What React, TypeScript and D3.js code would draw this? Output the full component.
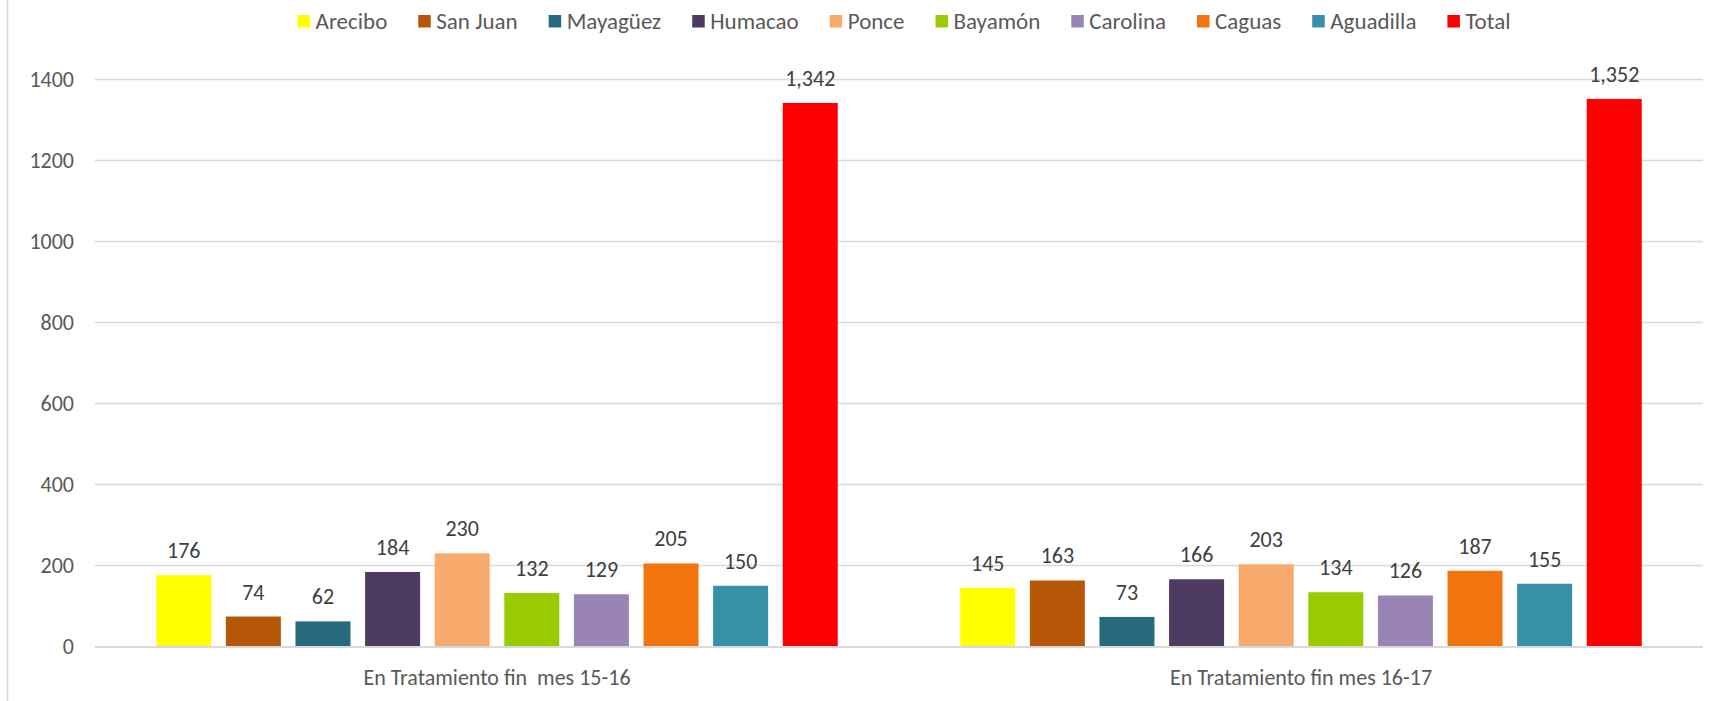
import React, { useEffect, useRef } from 'react';
import * as d3 from 'd3';

const categories = ['En Tratamiento fin  mes 15-16', 'En Tratamiento fin mes 16-17'];
const regions = ['Arecibo', 'San Juan', 'Mayagüez', 'Humacao', 'Ponce', 'Bayamón', 'Carolina', 'Caguas', 'Aguadilla', 'Total'];
const values1516 = [176, 74, 62, 184, 230, 132, 129, 205, 150, 1342];
const values1617 = [145, 163, 73, 166, 203, 134, 126, 187, 155, 1352];
const regionColors = ['#FFFF00', '#B65708', '#276A7C', '#4E3B62', '#F8AA6C', '#99CC00', '#9A84B6', '#F2740C', '#388FA8', '#FF0000'];
const yTicks = [0, 200, 400, 600, 800, 1000, 1200, 1400];

const W = 1721;
const H = 701;
const FONT = 'Carlito, Calibri, Lato, sans-serif';

export default function App() {
  const ref = useRef<SVGSVGElement | null>(null);

  useEffect(() => {
    if (!ref.current) return;
    const svg = d3.select(ref.current);
    svg.selectAll('*').remove();
    svg.style('font-family', FONT);

    const left = 95, right = 1703, top = 79.5, bottom = 646.5;

    const rows = [values1516, values1617];

    const x0 = d3.scaleBand<string>().domain(categories).range([left, right]).padding(0);
    // inner band: step ~69.7, bar ~55, ~61px margin each side of the cluster
    const x1 = d3.scaleBand<string>().domain(regions).range([0, x0.bandwidth()])
      .paddingInner(0.21).paddingOuter(0.88);
    const y = d3.scaleLinear().domain([0, 1400]).range([bottom, top]);

    // chart frame (only left edge visible)
    svg.append('line')
      .attr('x1', 7.5).attr('x2', 7.5).attr('y1', 0).attr('y2', H)
      .attr('stroke', '#d9d9d9').attr('stroke-width', 1.5);

    // gridlines
    svg.append('g').selectAll('line')
      .data(yTicks.filter(t => t > 0))
      .join('line')
      .attr('x1', left).attr('x2', right)
      .attr('y1', d => y(d)).attr('y2', d => y(d))
      .attr('stroke', '#d9d9d9').attr('stroke-width', 1.3);

    // y tick labels
    svg.append('g').selectAll('text')
      .data(yTicks)
      .join('text')
      .attr('x', 74).attr('y', d => y(d))
      .attr('dy', '0.35em')
      .attr('text-anchor', 'end')
      .attr('fill', '#595959')
      .style('font-size', '22px')
      .text(d => String(d));

    // bars
    const groups = svg.append('g').selectAll('g')
      .data(categories)
      .join('g')
      .attr('transform', d => `translate(${x0(d)},0)`);

    groups.selectAll('rect')
      .data((_c, i) => rows[i].map((v, j) => ({ region: regions[j], v, color: regionColors[j] })))
      .join('rect')
      .attr('x', d => x1(d.region)!)
      .attr('width', x1.bandwidth())
      .attr('y', d => y(d.v))
      .attr('height', d => y(0) - y(d.v))
      .attr('fill', d => d.color);

    groups.selectAll('text.val')
      .data((_c, i) => rows[i].map((v, j) => ({ region: regions[j], v })))
      .join('text')
      .attr('class', 'val')
      .attr('x', d => x1(d.region)! + x1.bandwidth() / 2)
      .attr('y', d => y(d.v) - 17)
      .attr('text-anchor', 'middle')
      .attr('fill', '#404040')
      .style('font-size', '22px')
      .text(d => d3.format(',')(d.v));

    // baseline
    svg.append('line')
      .attr('x1', left).attr('x2', right)
      .attr('y1', y(0) + 0.5).attr('y2', y(0) + 0.5)
      .attr('stroke', '#d9d9d9').attr('stroke-width', 2.2);

    // category labels
    svg.append('g').selectAll('text')
      .data(categories)
      .join('text')
      .attr('x', d => x0(d)! + x0.bandwidth() / 2)
      .attr('y', 685)
      .attr('text-anchor', 'middle')
      .attr('fill', '#595959')
      .attr('xml:space', 'preserve')
      .style('white-space', 'pre')
      .style('font-size', '22px')
      .text(d => d);

    // legend, flowed and centred
    const legend = svg.append('g');
    const items = legend.selectAll('g')
      .data(regions)
      .join('g');
    items.append('rect')
      .attr('width', 12.5).attr('height', 12.5)
      .attr('y', 15)
      .attr('fill', (_d, i) => regionColors[i]);
    items.append('text')
      .attr('x', 18).attr('y', 29)
      .attr('fill', '#595959')
      .style('font-size', '23px')
      .text(d => d);

    let cx = 0;
    const offsets: number[] = [];
    items.each(function () {
      const t = d3.select(this).select<SVGTextElement>('text').node()!;
      offsets.push(cx);
      cx += 18 + t.getComputedTextLength() + 31;
    });
    const total = cx - 31;
    const start = 904 - total / 2;
    items.attr('transform', (_d, i) => `translate(${start + offsets[i]},0)`);
  }, []);

  return (
    <div style={{ position: 'fixed', left: 0, top: 0, width: W, height: H, background: 'white' }}>
      <svg ref={ref} width={W} height={H} style={{ display: 'block' }} />
    </div>
  );
}
